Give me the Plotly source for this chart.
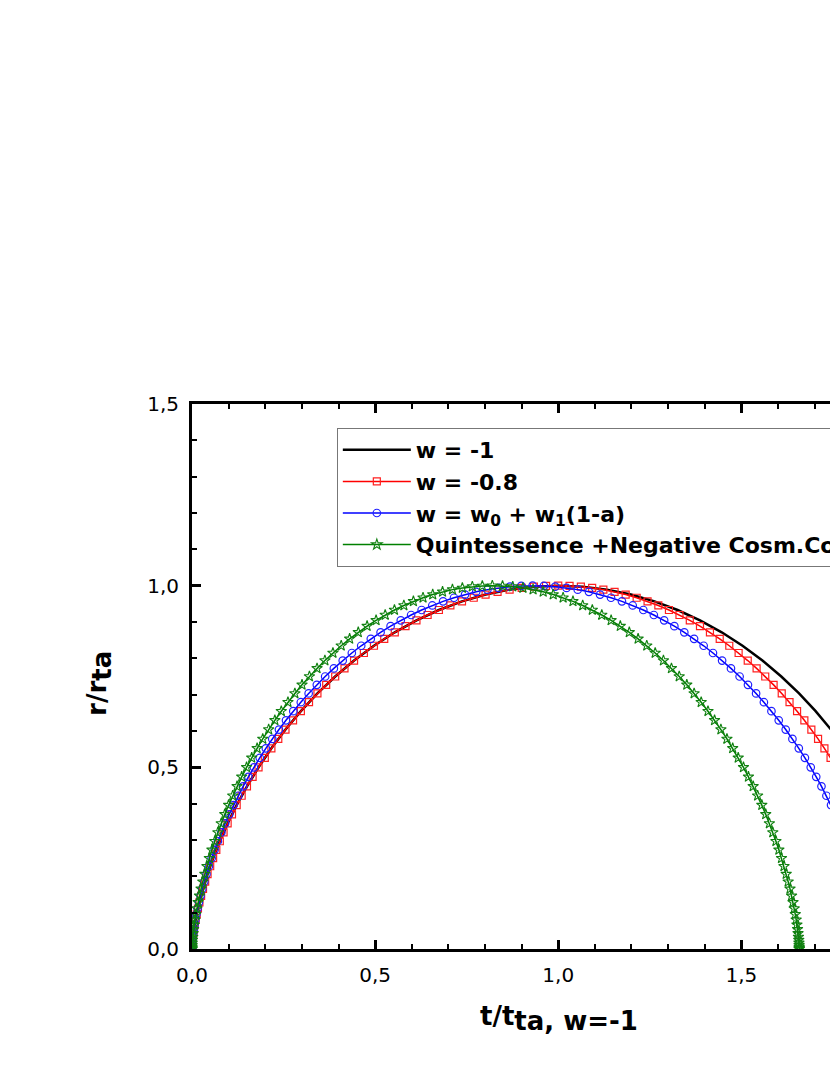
import plotly.graph_objects as go

# ---- data ----
black_x = [0.0000, 0.0001, 0.0005, 0.0016, 0.0039, 0.0075, 0.0129, 0.0203, 0.0301, 0.0425,
           0.0577, 0.0759, 0.0973, 0.1220, 0.1501, 0.1817, 0.2168, 0.2553, 0.2973, 0.3425,
           0.3910, 0.4425, 0.4968, 0.5537, 0.6129, 0.6742, 0.7372, 0.8016, 0.8672, 0.9334,
           1.0000, 1.0666, 1.1328, 1.1984, 1.2628, 1.3258, 1.3871, 1.4463, 1.5032, 1.5575,
           1.6090, 1.6575, 1.7027, 1.7447, 1.7832]
black_y = [0.0000, 0.0027, 0.0109, 0.0245, 0.0432, 0.0670, 0.0955, 0.1284, 0.1654, 0.2061,
           0.2500, 0.2966, 0.3455, 0.3960, 0.4477, 0.5000, 0.5523, 0.6040, 0.6545, 0.7034,
           0.7500, 0.7939, 0.8346, 0.8716, 0.9045, 0.9330, 0.9568, 0.9755, 0.9891, 0.9973,
           1.0000, 0.9973, 0.9891, 0.9755, 0.9568, 0.9330, 0.9045, 0.8716, 0.8346, 0.7939,
           0.7500, 0.7034, 0.6545, 0.6040, 0.5523]

red_x = [0.0000, 0.0000, 0.0001, 0.0002, 0.0005, 0.0009, 0.0016, 0.0026, 0.0039, 0.0055,
         0.0075, 0.0100, 0.0129, 0.0163, 0.0203, 0.0249, 0.0301, 0.0360, 0.0425, 0.0497,
         0.0577, 0.0664, 0.0759, 0.0862, 0.0973, 0.1092, 0.1220, 0.1356, 0.1501, 0.1655,
         0.1817, 0.1988, 0.2168, 0.2356, 0.2553, 0.2759, 0.2973, 0.3195, 0.3425, 0.3664,
         0.3910, 0.4164, 0.4425, 0.4693, 0.4968, 0.5249, 0.5537, 0.5830, 0.6129, 0.6433,
         0.6742, 0.7055, 0.7372, 0.7693, 0.8016, 0.8343, 0.8672, 0.9002, 0.9334, 0.9667,
         1.0000, 1.0309, 1.0618, 1.0926, 1.1232, 1.1538, 1.1841, 1.2141, 1.2439, 1.2733,
         1.3023, 1.3310, 1.3592, 1.3870, 1.4142, 1.4409, 1.4670, 1.4925, 1.5174, 1.5416,
         1.5652, 1.5880, 1.6102, 1.6315, 1.6521, 1.6720, 1.6911, 1.7094, 1.7268, 1.7435,
         1.7594]
red_y = [0.0000, 0.0007, 0.0027, 0.0062, 0.0109, 0.0170, 0.0245, 0.0332, 0.0432, 0.0545,
         0.0670, 0.0807, 0.0955, 0.1114, 0.1284, 0.1464, 0.1654, 0.1853, 0.2061, 0.2277,
         0.2500, 0.2730, 0.2966, 0.3208, 0.3455, 0.3706, 0.3960, 0.4218, 0.4477, 0.4738,
         0.5000, 0.5262, 0.5523, 0.5782, 0.6040, 0.6294, 0.6545, 0.6792, 0.7034, 0.7270,
         0.7500, 0.7723, 0.7939, 0.8147, 0.8346, 0.8536, 0.8716, 0.8886, 0.9045, 0.9193,
         0.9330, 0.9455, 0.9568, 0.9668, 0.9755, 0.9830, 0.9891, 0.9938, 0.9973, 0.9993,
         1.0000, 0.9993, 0.9973, 0.9938, 0.9891, 0.9830, 0.9755, 0.9668, 0.9568, 0.9455,
         0.9330, 0.9193, 0.9045, 0.8886, 0.8716, 0.8536, 0.8346, 0.8147, 0.7939, 0.7723,
         0.7500, 0.7270, 0.7034, 0.6792, 0.6545, 0.6294, 0.6040, 0.5782, 0.5523, 0.5262,
         0.5000]

blue_x = [0.0000, 0.0000, 0.0001, 0.0002, 0.0005, 0.0008, 0.0015, 0.0024, 0.0036, 0.0051,
          0.0070, 0.0093, 0.0120, 0.0152, 0.0189, 0.0232, 0.0280, 0.0335, 0.0395, 0.0462,
          0.0537, 0.0618, 0.0706, 0.0802, 0.0905, 0.1016, 0.1135, 0.1261, 0.1396, 0.1539,
          0.1690, 0.1849, 0.2016, 0.2191, 0.2374, 0.2566, 0.2765, 0.2971, 0.3185, 0.3408,
          0.3636, 0.3873, 0.4115, 0.4364, 0.4620, 0.4882, 0.5149, 0.5422, 0.5700, 0.5983,
          0.6270, 0.6561, 0.6856, 0.7154, 0.7455, 0.7759, 0.8065, 0.8372, 0.8681, 0.8990,
          0.9300, 0.9609, 0.9918, 1.0226, 1.0532, 1.0838, 1.1141, 1.1441, 1.1739, 1.2033,
          1.2323, 1.2610, 1.2892, 1.3170, 1.3442, 1.3709, 1.3970, 1.4225, 1.4474, 1.4716,
          1.4952, 1.5180, 1.5402, 1.5615, 1.5821, 1.6020, 1.6211, 1.6394, 1.6568, 1.6735,
          1.6894, 1.7044, 1.7187, 1.7322, 1.7448, 1.7567]
blue_y = [0.0000, 0.0007, 0.0027, 0.0062, 0.0109, 0.0170, 0.0245, 0.0332, 0.0432, 0.0545,
          0.0670, 0.0807, 0.0955, 0.1114, 0.1284, 0.1464, 0.1654, 0.1853, 0.2061, 0.2277,
          0.2500, 0.2730, 0.2966, 0.3208, 0.3455, 0.3706, 0.3960, 0.4218, 0.4477, 0.4738,
          0.5000, 0.5262, 0.5523, 0.5782, 0.6040, 0.6294, 0.6545, 0.6792, 0.7034, 0.7270,
          0.7500, 0.7723, 0.7939, 0.8147, 0.8346, 0.8536, 0.8716, 0.8886, 0.9045, 0.9193,
          0.9330, 0.9455, 0.9568, 0.9668, 0.9755, 0.9830, 0.9891, 0.9938, 0.9973, 0.9993,
          1.0000, 0.9993, 0.9973, 0.9938, 0.9891, 0.9830, 0.9755, 0.9668, 0.9568, 0.9455,
          0.9330, 0.9193, 0.9045, 0.8886, 0.8716, 0.8536, 0.8346, 0.8147, 0.7939, 0.7723,
          0.7500, 0.7270, 0.7034, 0.6792, 0.6545, 0.6294, 0.6040, 0.5782, 0.5523, 0.5262,
          0.5000, 0.4738, 0.4477, 0.4218, 0.3960, 0.3706]

green_x = [0.0000, 0.0000, 0.0001, 0.0002, 0.0004, 0.0007, 0.0013, 0.0021, 0.0032, 0.0045,
           0.0062, 0.0082, 0.0106, 0.0134, 0.0166, 0.0204, 0.0247, 0.0295, 0.0349, 0.0408,
           0.0473, 0.0544, 0.0622, 0.0707, 0.0798, 0.0895, 0.1000, 0.1112, 0.1231, 0.1357,
           0.1490, 0.1630, 0.1778, 0.1932, 0.2093, 0.2262, 0.2438, 0.2620, 0.2809, 0.3004,
           0.3206, 0.3414, 0.3629, 0.3848, 0.4074, 0.4304, 0.4540, 0.4781, 0.5026, 0.5275,
           0.5528, 0.5785, 0.6045, 0.6308, 0.6573, 0.6841, 0.7111, 0.7382, 0.7654, 0.7927,
           0.8200, 0.8479, 0.8758, 0.9036, 0.9313, 0.9589, 0.9863, 1.0133, 1.0402, 1.0668,
           1.0930, 1.1189, 1.1444, 1.1694, 1.1940, 1.2181, 1.2417, 1.2647, 1.2872, 1.3091,
           1.3303, 1.3510, 1.3710, 1.3903, 1.4089, 1.4268, 1.4441, 1.4606, 1.4763, 1.4914,
           1.5057, 1.5193, 1.5322, 1.5444, 1.5558, 1.5665, 1.5765, 1.5858, 1.5944, 1.6024,
           1.6096, 1.6164, 1.6224, 1.6278, 1.6328, 1.6371, 1.6410, 1.6443, 1.6472, 1.6496,
           1.6517, 1.6534, 1.6547, 1.6558, 1.6567, 1.6572, 1.6576, 1.6578, 1.6579, 1.6580,
           1.6580]
green_y = [0.0000, 0.0007, 0.0027, 0.0062, 0.0109, 0.0170, 0.0245, 0.0332, 0.0432, 0.0545,
           0.0670, 0.0807, 0.0955, 0.1114, 0.1284, 0.1464, 0.1654, 0.1853, 0.2061, 0.2277,
           0.2500, 0.2730, 0.2966, 0.3208, 0.3455, 0.3706, 0.3960, 0.4218, 0.4477, 0.4738,
           0.5000, 0.5262, 0.5523, 0.5782, 0.6040, 0.6294, 0.6545, 0.6792, 0.7034, 0.7270,
           0.7500, 0.7723, 0.7939, 0.8147, 0.8346, 0.8536, 0.8716, 0.8886, 0.9045, 0.9193,
           0.9330, 0.9455, 0.9568, 0.9668, 0.9755, 0.9830, 0.9891, 0.9938, 0.9973, 0.9993,
           1.0000, 0.9993, 0.9973, 0.9938, 0.9891, 0.9830, 0.9755, 0.9668, 0.9568, 0.9455,
           0.9330, 0.9193, 0.9045, 0.8886, 0.8716, 0.8536, 0.8346, 0.8147, 0.7939, 0.7723,
           0.7500, 0.7270, 0.7034, 0.6792, 0.6545, 0.6294, 0.6040, 0.5782, 0.5523, 0.5262,
           0.5000, 0.4738, 0.4477, 0.4218, 0.3960, 0.3706, 0.3455, 0.3208, 0.2966, 0.2730,
           0.2500, 0.2277, 0.2061, 0.1853, 0.1654, 0.1464, 0.1284, 0.1114, 0.0955, 0.0807,
           0.0670, 0.0545, 0.0432, 0.0332, 0.0245, 0.0170, 0.0109, 0.0062, 0.0027, 0.0007,
           0.0000]

series_names = ["w = -1", "w = -0.8", "w = w<sub>0</sub> + w<sub>1</sub>(1-a)",
                "Quintessence +Negative Cosm.Const."]
x_tick_vals = [0.0, 0.5, 1.0, 1.5]
y_tick_vals = [0.0, 0.5, 1.0, 1.5]

FONT = "DejaVu Sans"

fig = go.Figure()
fig.add_trace(go.Scatter(x=black_x, y=black_y, mode="lines", name=series_names[0],
                         line=dict(color="black", width=2.5)))
fig.add_trace(go.Scatter(x=red_x, y=red_y, mode="lines+markers", name=series_names[1],
                         line=dict(color="#ff0000", width=1.5),
                         marker=dict(symbol="square-open", size=7, color="#ff2020",
                                     line=dict(width=1.2))))
fig.add_trace(go.Scatter(x=blue_x, y=blue_y, mode="lines+markers", name=series_names[2],
                         line=dict(color="#0000ff", width=1.5),
                         marker=dict(symbol="circle-open", size=7.5, color="#2020ff",
                                     line=dict(width=1.2))))
fig.add_trace(go.Scatter(x=green_x, y=green_y, mode="lines+markers", name=series_names[3],
                         line=dict(color="#008000", width=1.5),
                         marker=dict(symbol="star-open", size=8, color="#108010",
                                     line=dict(width=1.1))))

axis_common = dict(
    showgrid=False, zeroline=False, showline=True, linecolor="black", linewidth=3,
    ticks="inside", ticklen=9, tickwidth=2.5, tickcolor="black",
    tickformat=".1f", tickfont=dict(family=FONT, size=20, color="black"),
    minor=dict(dtick=0.1, ticks="inside", ticklen=5, tickwidth=2, tickcolor="black"),
)

fig.update_layout(
    width=830, height=1075,
    margin=dict(l=192, r=0, t=404, b=126, autoexpand=False),
    paper_bgcolor="white", plot_bgcolor="white",
    separators=",.",
    font=dict(family=FONT, color="black"),
    showlegend=True,
    legend=dict(x=0.227, y=0.956, xanchor="left", yanchor="top",
                bgcolor="white", bordercolor="#777777", borderwidth=1,
                font=dict(family=FONT, size=22, color="black", weight="bold"),
                itemwidth=68, tracegroupgap=2),
    xaxis=dict(range=[0, 1.742], tickvals=x_tick_vals, mirror="ticks",
               ticklabelstandoff=6, **axis_common),
    yaxis=dict(range=[0, 1.5], tickvals=y_tick_vals, mirror=False,
               ticklabelstandoff=6, **axis_common),
    annotations=[
        dict(text="<b>t/t<sub><span style='font-size:26px'>ta, w=-1</span></sub></b>",
             xref="paper", yref="paper", x=0.575, y=-0.128, showarrow=False,
             xanchor="center", yanchor="middle",
             font=dict(family=FONT, size=26, color="black")),
        dict(text="<b>r/r<sub><span style='font-size:26px'>ta</span></sub></b>",
             xref="paper", yref="paper", x=-0.146, y=0.488, showarrow=False,
             textangle=-90, xanchor="center", yanchor="middle",
             font=dict(family=FONT, size=26, color="black")),
    ],
)

fig.write_html(
    "out.html",
    config={"displayModeBar": False},
    post_script="document.body.style.margin='0';document.body.style.overflow='hidden';",
)
